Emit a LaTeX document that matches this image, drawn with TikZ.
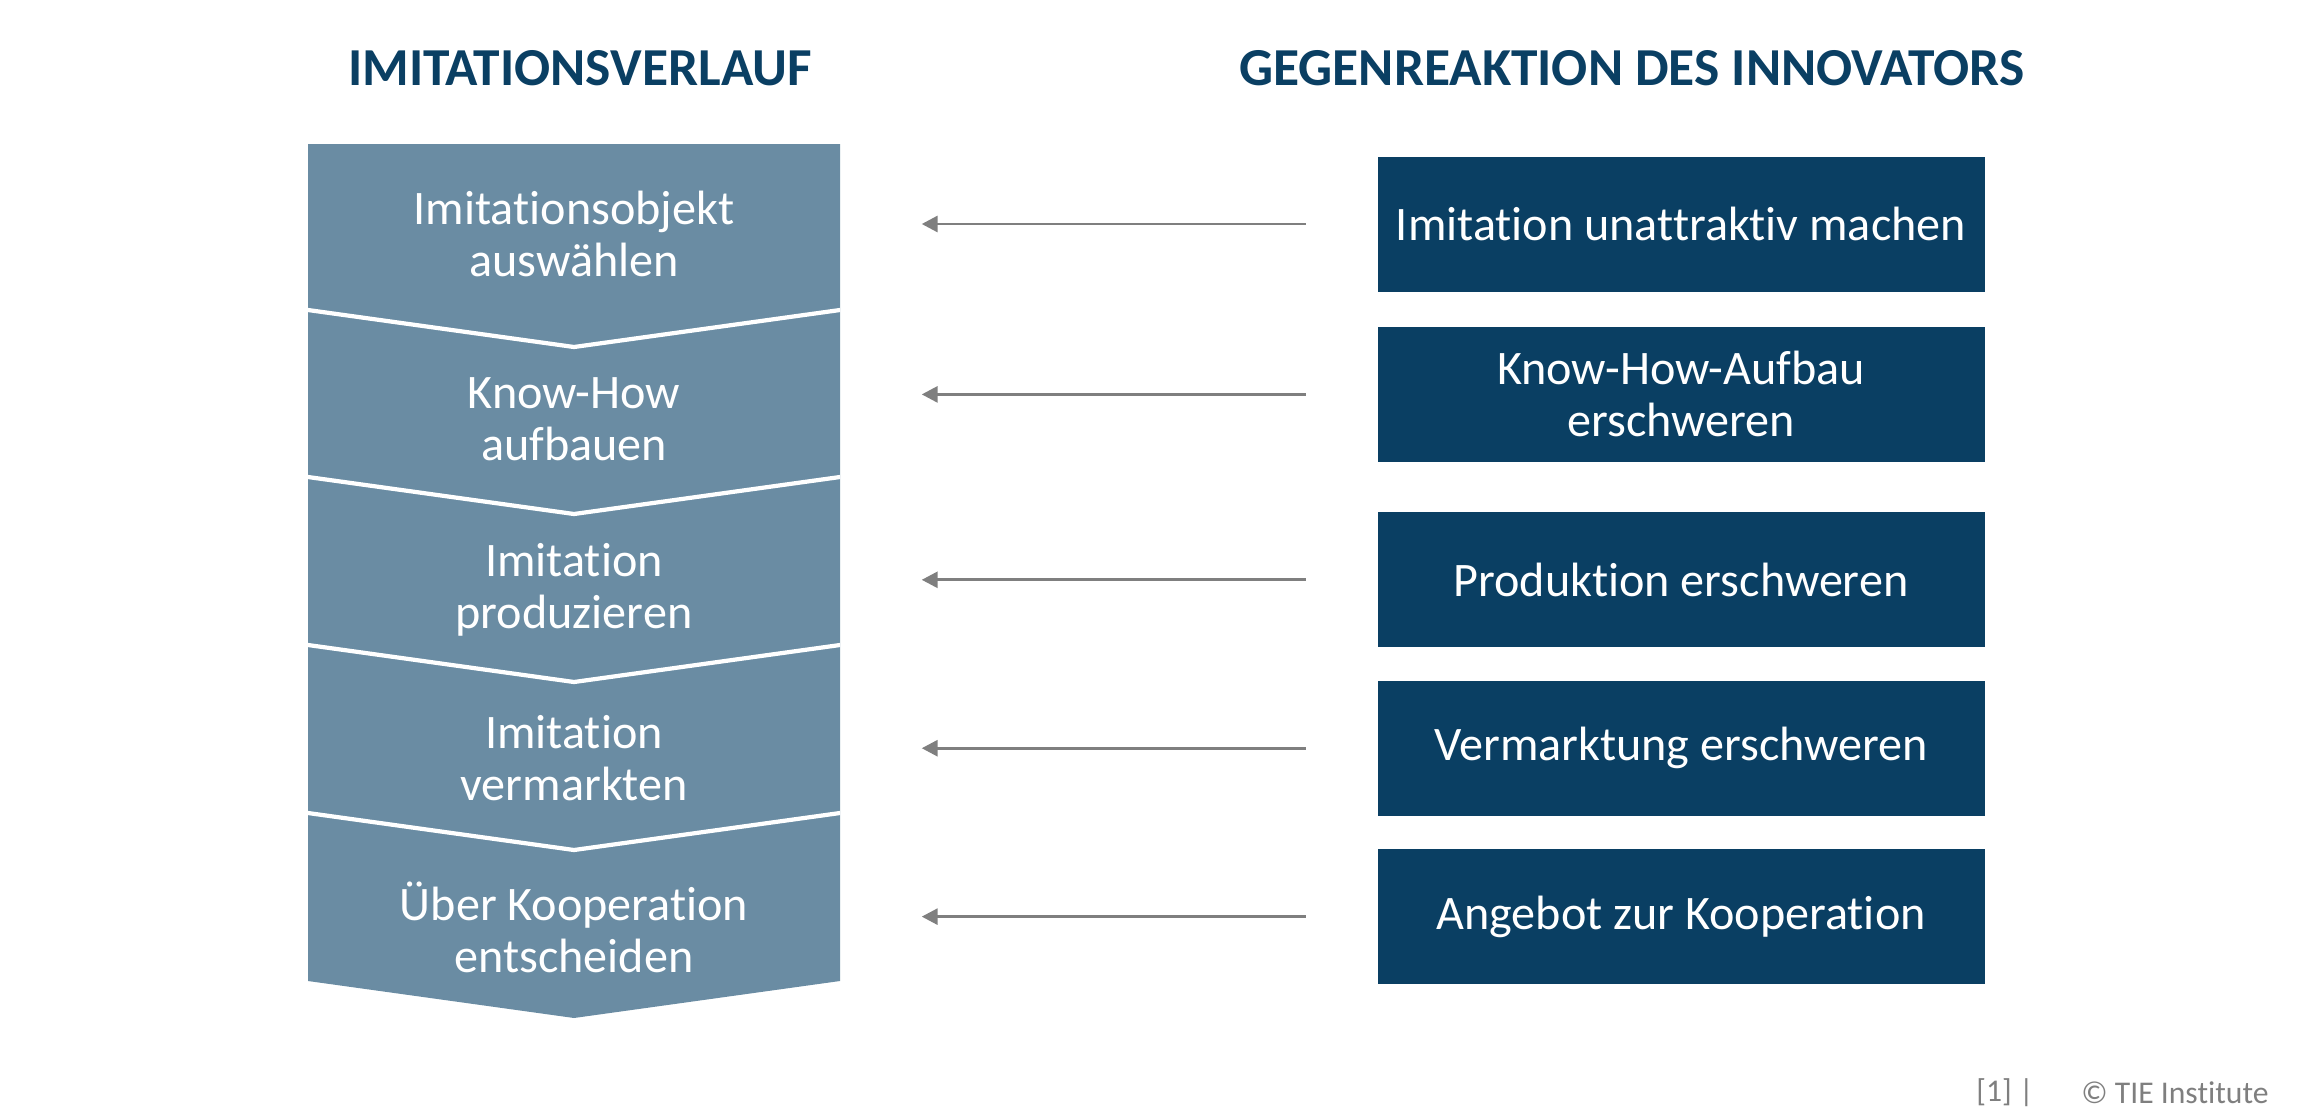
\documentclass[tikz,border=0pt]{standalone}
\usepackage{fontspec}
\setmainfont{Carlito}[Ligatures=NoCommon]
\usetikzlibrary{arrows.meta,positioning}
\definecolor{stepfill}{HTML}{6A8CA3}
\definecolor{boxfill}{HTML}{0A3F63}
\definecolor{headblue}{HTML}{0A3F63}
\definecolor{arrgray}{HTML}{7F7F7F}

\begin{document}
\begin{tikzpicture}[x=0.1mm, y=-0.1mm,
  phase/.style={text=white, align=center, font=\fontsize{13.7}{14.8}\selectfont, minimum width=53.2mm, inner sep=0pt},
  reaction/.style={fill=boxfill, text=white, align=center, font=\fontsize{13.7}{14.8}\selectfont, minimum width=60.7mm, minimum height=13.5mm, inner sep=0pt},
  head/.style={font=\fontsize{15.2}{18}\selectfont\bfseries, text=headblue},
  foot/.style={font=\fontsize{9}{11}\selectfont, text=arrgray},
  arr/.style={-{Triangle[length=4.5pt,width=4.5pt]}, line width=0.85pt, arrgray, shorten <=7.1mm, shorten >=8.1mm}
]
  \useasboundingbox (0,0) rectangle (2304,1110);

  % chevron column
  \fill[stepfill] (308,144) -- (840,144) -- (840,981) -- (574,1018) -- (308,981) -- cycle;
  \foreach \yb in {310,477,645,813}
    \draw[white, line width=1.2pt] (308,\yb) -- (574,\yb+37) -- (840,\yb);

  \node[head] (hleft) at (580,68) {IMITATIONSVERLAUF};
  \node[head] (hright) at (1632,68) {GEGENREAKTION DES INNOVATORS};

  \node[phase] (l1) at (574,234) {Imitationsobjekt\\auswählen};
  \node[phase] (l2) at (574,419) {Know-How\\aufbauen};
  \node[phase] (l3) at (574,590) {Imitation\\produzieren};
  \node[phase] (l4) at (574,758) {Imitation\\vermarkten};
  \node[phase] (l5) at (574,927) {Über Kooperation\\entscheiden};

  \node[reaction] (r1) at (1681,224) {Imitation unattraktiv machen};
  \node[reaction, below=3.4mm of r1] (r2) {Know-How-Aufbau\\erschweren};
  \node[reaction, below=4.9mm of r2] (r3) {Produktion erschweren};
  \node[reaction, below=3.2mm of r3] (r4) {Vermarktung erschweren};
  \node[reaction, below=3.2mm of r4] (r5) {Angebot zur Kooperation};

  \foreach \i in {1,...,5}
    \draw[arr] (r\i.west) -- (r\i.west -| l\i.east);

  \node[foot] (cite) at (2005,1093) {[1] |};
  \node[foot] (copy) at (2175,1093) {© TIE Institute};
\end{tikzpicture}
\end{document}
